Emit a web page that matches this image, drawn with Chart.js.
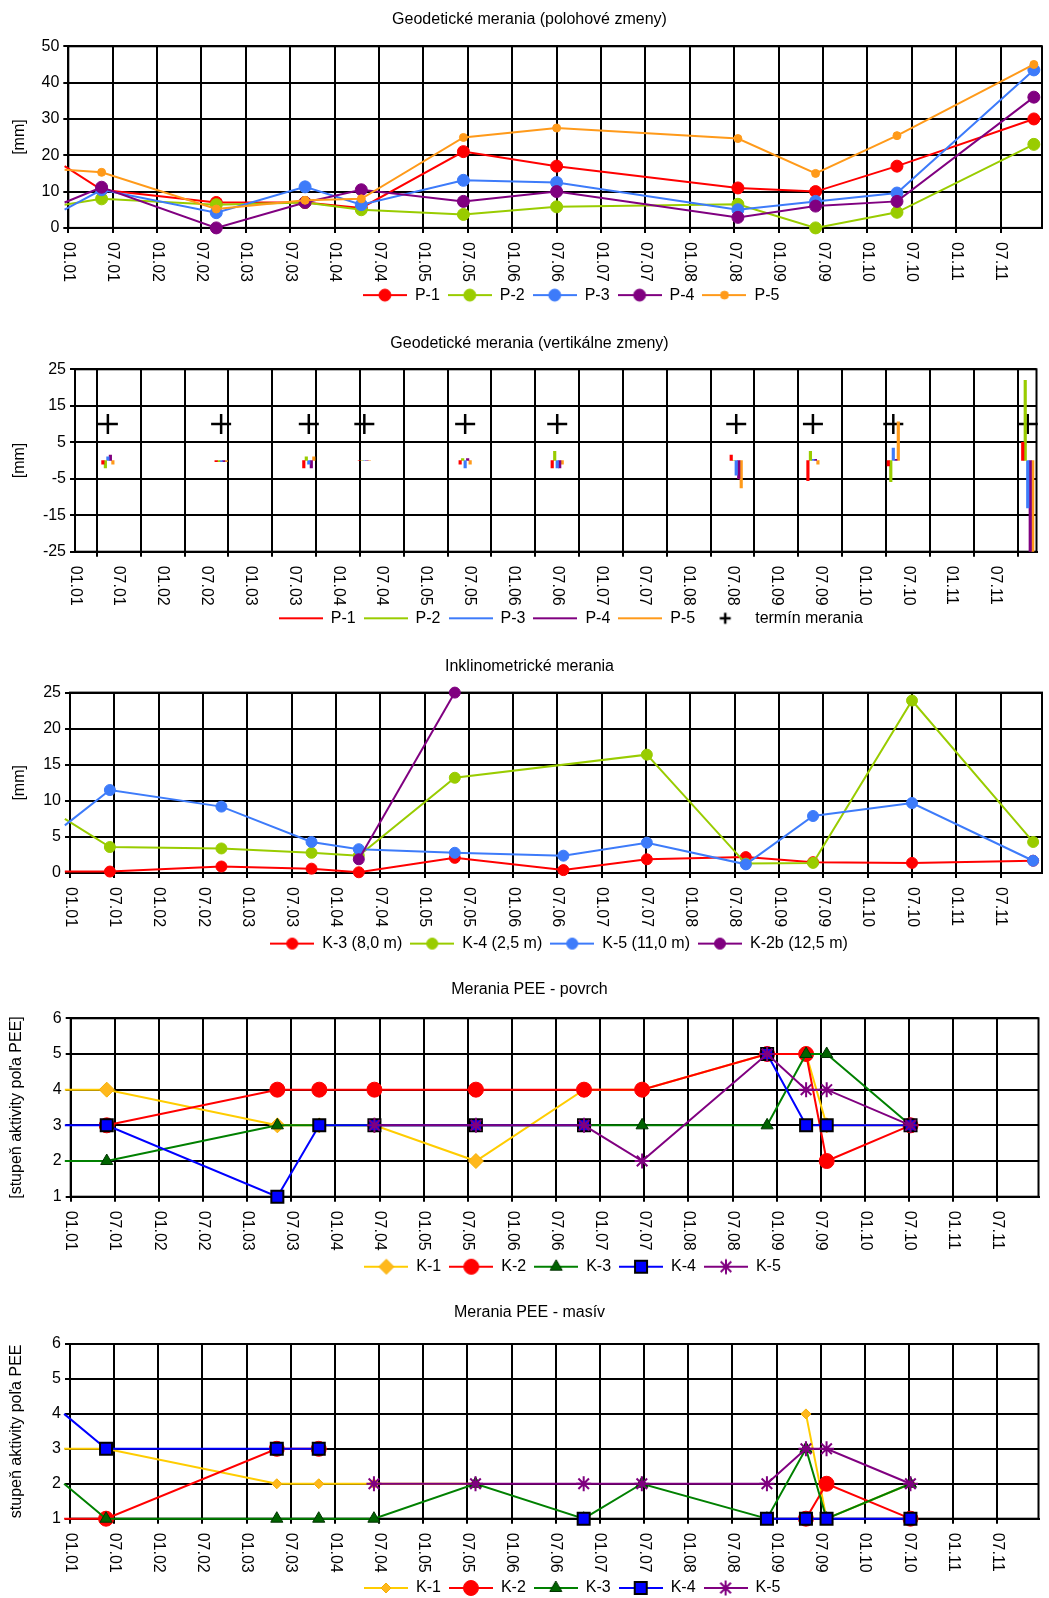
<!DOCTYPE html>
<html>
<head>
<meta charset="utf-8">
<script src="https://cdn.jsdelivr.net/npm/chart.js@4.4.1/dist/chart.umd.min.js"></script>
<style>
  html, body { margin: 0; padding: 0; background: #fff; overflow: hidden; }
  canvas { position: absolute; left: 0; }
</style>
</head>
<body>
<canvas id="geoChart"></canvas>
<canvas id="vertChart"></canvas>
<canvas id="inkChart"></canvas>
<canvas id="povChart"></canvas>
<canvas id="masChart"></canvas>
<script>
// x axis = months counted from 01/2001, one tick every half year
const monthTicks = ["01.01", "07.01", "01.02", "07.02", "01.03", "07.03", "01.04", "07.04", "01.05", "07.05", "01.06",
  "07.06", "01.07", "07.07", "01.08", "07.08", "01.09", "07.09", "01.10", "07.10", "01.11", "07.11"];
const monthMax = 131.6;

// Geodetické merania (polohové zmeny)
const geoDates = [-0.5, 4.5, 20, 32, 39.6, 53.4, 66, 90.5, 101, 112, 130.5];
const geoP1 = [17, 10.5, 7, 7, 5.5, 21, 17, 11, 10, 17, 30];
const geoP2 = [6.4, 8, 6.4, 7, 5, 3.7, 5.8, 6.5, 0, 4.3, 23];
const geoP3 = [5, 10.5, 4.2, 11.3, 6.4, 13.1, 12.5, 5, 7.3, 9.6, 43.5];
const geoP4 = [7, 11.2, 0, 7, 10.5, 7.3, 10, 2.9, 6, 7.3, 36];
const geoP5 = [16, 15.3, 5.2, 7.6, 8, 24.9, 27.5, 24.6, 15, 25.4, 45];

// Geodetické merania (vertikálne zmeny)
const vertDates = [4.5, 20, 32, 39.6, 53.4, 66, 90.5, 101, 112, 130.4];
const vertP1 = [-1, -0.3, -2, 0, -1, -2, 1.5, -5.5, -1.5, 5];
const vertP2 = [-2, -0.3, 1, 0, 0.5, 2.5, 0, 2.5, -5.8, 22];
const vertP3 = [1, -0.3, -1, 0, -2, -2, -4, 0.3, 3.4, -13];
const vertP4 = [1.5, -0.3, -2, 0, 0.5, -2, -5, 0.3, 0.3, -28];
const vertP5 = [-1, -0.3, 1, 0, -1, -1, -7.5, -1, 10.6, -28];
const terminLevel = 10;

// Inklinometrické merania
const inkDates = [-0.7, 5.4, 20.5, 32.7, 39.1, 52.1, 66.8, 78.1, 91.5, 100.6, 114, 130.4];
const inkK3 = [0.2, 0.2, 0.9, 0.6, 0.1, 2.1, 0.4, 1.9, 2.2, 1.5, 1.4, 1.7];
const inkK4 = [7.5, 3.6, 3.4, 2.8, 2.4, 13.2, null, 16.4, 1.3, 1.4, 23.9, 4.3];
const inkK5 = [6.6, 11.5, 9.2, 4.3, 3.3, 2.8, 2.4, 4.2, 1.2, 7.9, 9.7, 1.7];
const inkK2b = [null, null, null, null, 1.9, 25, null, null, null, null, null, null];

// Merania PEE
const peeDates = [-0.8, 4.9, 28.1, 33.8, 41.3, 55.1, 69.8, 77.7, 94.7, 100, 102.8, 114.2];
const povK1 = [4, 4, 3, 3, 3, 2, 4, 4, 5, 5, 3, 3];
const povK2 = [null, 3, 4, 4, 4, 4, 4, 4, 5, 5, 2, 3];
const povK3 = [2, 2, 3, 3, 3, 3, 3, 3, 3, 5, 5, 3];
const povK4 = [3, 3, 1, 3, 3, 3, 3, null, 5, 3, 3, 3];
const povK5 = [null, null, null, null, 3, 3, 3, 2, 5, 4, 4, 3];

const masK1 = [3, 3, 2, 2, 2, 2, null, null, null, 4, 1, 2];
const masK2 = [1, 1, 3, 3, null, null, null, null, null, 1, 2, 1];
const masK3 = [2, 1, 1, 1, 1, 2, 1, 2, 1, 3, 1, 2];
const masK4 = [4, 3, 3, 3, null, null, 1, null, 1, 1, 1, 1];
const masK5 = [null, null, null, null, 2, 2, 2, 2, 2, 3, 3, 2];

// colours
const RED = "#FF0000", LIME = "#99CC00", SKY = "#3D7BFA", PURPLE = "#800080", ORANGE = "#FF9A1A";
const GOLD = "#FFCC00", GREEN = "#008000", BLUE = "#0000FF";

const FONT = '"Liberation Sans", Arial, sans-serif';
const FS = 16;
Chart.defaults.font.family = FONT;
Chart.defaults.font.size = FS;
Chart.defaults.color = "#000";

const LEGEND_PAD = 8;

function pts(dates, values) {
  return dates.map((d, i) => ({ x: d, y: values[i] }));
}
function floatBars(dates, values) {
  return dates.map((d, i) => ({ x: d, y: [0, values[i]] }));
}

function lineSet(label, dates, values, color, extra) {
  const ds = Object.assign({
    type: "line",
    label: label,
    data: pts(dates, values),
    borderColor: color,
    backgroundColor: color,
    borderWidth: 2,
    tension: 0,
    pointStyle: "circle",
    markerRadius: 6,
    pointBackgroundColor: color,
    pointBorderColor: color,
    pointBorderWidth: 1,
    clip: false,
    spanGaps: false,
  }, extra || {});
  // the series start before 01.01 without a marker
  ds.pointRadius = (c) => (c.raw && c.raw.x < 0 ? 0 : ds.markerRadius);
  return ds;
}

function barSet(label, dates, values, color) {
  return {
    type: "bar",
    label: label,
    data: floatBars(dates, values),
    backgroundColor: color,
    borderColor: color,
    borderWidth: 0,
    barThickness: 2.5,
  };
}

// legend sample: short line with the marker in the middle
function swatch(ds, w) {
  const c = document.createElement("canvas");
  c.width = w;
  c.height = 20;
  const g = c.getContext("2d");
  if (ds.showLine !== false) {
    g.strokeStyle = ds.borderColor;
    g.lineWidth = 2;
    g.beginPath();
    g.moveTo(0, 10);
    g.lineTo(w, 10);
    g.stroke();
  }
  if (ds.type !== "bar" && ds.markerRadius > 0) {
    g.fillStyle = ds.pointBackgroundColor;
    g.strokeStyle = ds.pointBorderColor;
    g.lineWidth = ds.pointBorderWidth;
    Chart.helpers.drawPoint(g, {
      pointStyle: ds.pointStyle,
      radius: ds.legendRadius || ds.markerRadius,
      borderWidth: ds.pointBorderWidth,
      rotation: 0,
    }, w / 2, 10);
  }
  return c;
}

// frame round the plot + x labels turned clockwise
const framePlugin = {
  id: "frame",
  afterLayout(chart, args, opts) {
    // title and legend sit a bit right of centre in the original
    chart.titleBlock.left += opts.titleShift;
    chart.titleBlock.right += opts.titleShift;
    chart.legend.left += opts.legendShift;
    chart.legend.right += opts.legendShift;
  },
  beforeDatasetsDraw(chart) {
    const { ctx, chartArea: a } = chart;
    ctx.save();
    ctx.strokeStyle = "#000";
    ctx.lineWidth = 2;
    ctx.strokeRect(a.left, a.top, a.width, a.height);
    ctx.restore();
  },
  afterDraw(chart) {
    const { ctx } = chart;
    const xs = chart.scales.x;
    ctx.save();
    ctx.fillStyle = "#000";
    ctx.font = FS + "px " + FONT;
    ctx.textAlign = "left";
    ctx.textBaseline = "middle";
    xs.ticks.forEach((t) => {
      ctx.save();
      ctx.translate(xs.getPixelForValue(t.value), xs.top + 14);
      ctx.rotate(Math.PI / 2);
      ctx.fillText(t.label, 0, 0);
      ctx.restore();
    });
    ctx.restore();
  },
};

function makeChart(id, cfg) {
  const top = cfg.titleY - 20;
  const half = FS * 0.6;
  const legendTop = cfg.legendY - LEGEND_PAD - FS / 2;
  const legendH = FS + LEGEND_PAD + 10;
  const height = Math.ceil(legendTop + legendH + 3 - top);
  const padBottom = height - (legendTop + legendH - top);
  const canvas = document.getElementById(id);
  canvas.width = 1049;
  canvas.height = height;
  canvas.style.top = top + "px";

  return new Chart(canvas, {
    type: "line",
    data: { datasets: cfg.datasets },
    options: {
      responsive: false,
      animation: false,
      events: [],
      layout: { padding: { left: 0, right: 7, top: 0, bottom: padBottom } },
      plugins: {
        frame: { titleShift: 8.5, legendShift: cfg.legendShift },
        title: {
          display: true,
          text: cfg.title,
          color: "#000",
          font: { size: FS, weight: "normal" },
          padding: { top: cfg.titleY - top - half, bottom: cfg.plotTop - cfg.titleY - half },
        },
        legend: {
          position: "bottom",
          fullSize: false,
          labels: {
            usePointStyle: true,
            pointStyleWidth: 44,
            padding: LEGEND_PAD,
            color: "#000",
            font: { size: FS },
            generateLabels: (chart) => chart.data.datasets.map((ds, i) => ({
              text: ds.label,
              pointStyle: swatch(ds, 44),
              datasetIndex: i,
              hidden: false,
              fontColor: "#000",
              lineWidth: 0,
              strokeStyle: "transparent",
              fillStyle: "transparent",
            })),
          },
        },
        tooltip: { enabled: false },
      },
      scales: {
        x: {
          type: "linear",
          min: 0,
          max: monthMax,
          offset: false,
          afterBuildTicks: (s) => { s.ticks = monthTicks.map((t, i) => ({ value: i * 6 })); },
          ticks: { display: false, callback: (v, i) => monthTicks[i] },
          grid: { color: "#000", lineWidth: 2, tickLength: 5 },
          border: { color: "#000", width: 2 },
          afterFit: (s) => { s.height = legendTop - cfg.plotBottom; },
        },
        y: {
          min: cfg.yMin,
          max: cfg.yMax,
          ticks: { stepSize: cfg.yStep, padding: 4, color: "#000", font: { size: FS } },
          grid: { color: "#000", lineWidth: 2, tickLength: 5 },
          border: { color: "#000", width: 2 },
          title: {
            display: true,
            text: cfg.yTitle,
            color: "#000",
            font: { size: FS },
            padding: { top: cfg.yTitleX - half, bottom: 0 },
          },
          afterFit: (s) => { s.width = cfg.plotLeft; },
        },
      },
    },
    plugins: [framePlugin],
  });
}

// later series drawn on top, like the original
function layered(list) {
  list.forEach((ds, i) => { ds.order = -i; });
  return list;
}

makeChart("geoChart", {
  title: "Geodetické merania (polohové zmeny)",
  titleY: 20.4, plotTop: 46.7, plotBottom: 228.3, legendY: 295.5, plotLeft: 68.3, yTitleX: 20, legendShift: 16,
  yMin: 0, yMax: 50, yStep: 10, yTitle: "[mm]",
  datasets: layered([
    lineSet("P-1", geoDates, geoP1, RED),
    lineSet("P-2", geoDates, geoP2, LIME),
    lineSet("P-3", geoDates, geoP3, SKY),
    lineSet("P-4", geoDates, geoP4, PURPLE),
    lineSet("P-5", geoDates, geoP5, ORANGE, { markerRadius: 4 }),
  ]),
});

makeChart("vertChart", {
  title: "Geodetické merania (vertikálne zmeny)",
  titleY: 344, plotTop: 369.3, plotBottom: 551.7, legendY: 618.3, plotLeft: 75, yTitleX: 20, legendShift: 15,
  yMin: -25, yMax: 25, yStep: 10, yTitle: "[mm]",
  datasets: [
    barSet("P-1", vertDates, vertP1, RED),
    barSet("P-2", vertDates, vertP2, LIME),
    barSet("P-3", vertDates, vertP3, SKY),
    barSet("P-4", vertDates, vertP4, PURPLE),
    barSet("P-5", vertDates, vertP5, ORANGE),
    lineSet("termín merania", vertDates, vertDates.map(() => terminLevel), "#000", {
      showLine: false, pointStyle: "cross", markerRadius: 10, pointBorderWidth: 2.5, legendRadius: 5.5,
    }),
  ],
});

makeChart("inkChart", {
  title: "Inklinometrické merania",
  titleY: 666.7, plotTop: 692.3, plotBottom: 872.7, legendY: 943.3, plotLeft: 70, yTitleX: 20, legendShift: 3,
  yMin: 0, yMax: 25, yStep: 5, yTitle: "[mm]",
  datasets: layered([
    lineSet("K-3 (8,0 m)", inkDates, inkK3, RED, { markerRadius: 5.5 }),
    lineSet("K-4 (2,5 m)", inkDates, inkK4, LIME, { markerRadius: 5.5, spanGaps: true }),
    lineSet("K-5 (11,0 m)", inkDates, inkK5, SKY, { markerRadius: 5.5 }),
    lineSet("K-2b (12,5 m)", inkDates, inkK2b, PURPLE, { markerRadius: 5.5 }),
  ]),
});

function peeSets(k1, k2, k3, k4, k5, small) {
  return layered([
    lineSet("K-1", peeDates, k1, GOLD, {
      pointStyle: "rectRot", markerRadius: small ? 5 : 7.5, pointBackgroundColor: "#FFB81C", pointBorderColor: "#F5B000",
    }),
    lineSet("K-2", peeDates, k2, RED, { markerRadius: 7.5 }),
    lineSet("K-3", peeDates, k3, GREEN, {
      pointStyle: "triangle", markerRadius: 7, pointBackgroundColor: "#006400", pointBorderColor: "#003300",
    }),
    lineSet("K-4", peeDates, k4, BLUE, {
      pointStyle: "rect", markerRadius: 8.5, pointBackgroundColor: BLUE, pointBorderColor: "#000", pointBorderWidth: 2,
    }),
    lineSet("K-5", peeDates, k5, PURPLE, {
      pointStyle: "star", markerRadius: 7.5, pointBorderColor: PURPLE, pointBorderWidth: 2,
    }),
  ]);
}

makeChart("povChart", {
  title: "Merania PEE - povrch",
  titleY: 990, plotTop: 1018.3, plotBottom: 1196.7, legendY: 1266.7, plotLeft: 70.7, yTitleX: 17, legendShift: 18,
  yMin: 1, yMax: 6, yStep: 1, yTitle: "[stupeň aktivity poľa PEE]",
  datasets: peeSets(povK1, povK2, povK3, povK4, povK5, false),
});

makeChart("masChart", {
  title: "Merania PEE - masív",
  titleY: 1313.3, plotTop: 1344.3, plotBottom: 1519, legendY: 1588.3, plotLeft: 70, yTitleX: 17, legendShift: 18,
  yMin: 1, yMax: 6, yStep: 1, yTitle: "stupeň aktivity poľa PEE",
  datasets: peeSets(masK1, masK2, masK3, masK4, masK5, true),
});
</script>
</body>
</html>
